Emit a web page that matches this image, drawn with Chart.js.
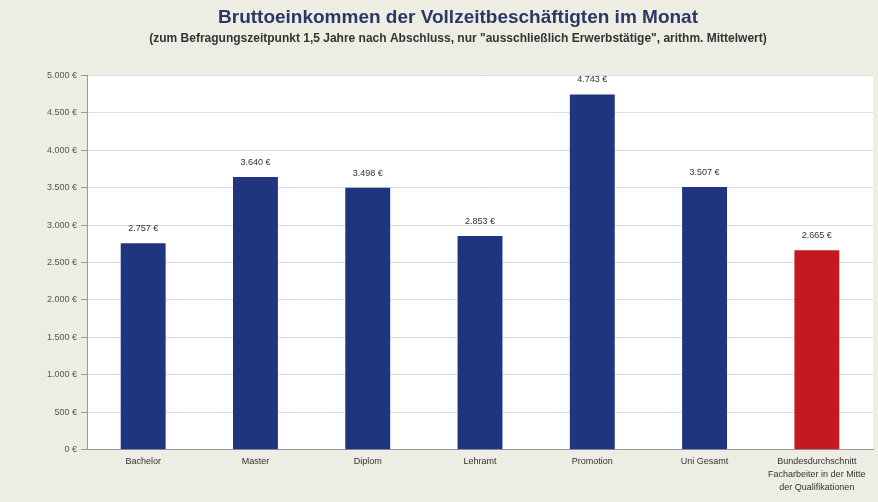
<!DOCTYPE html>
<html>
<head>
<meta charset="utf-8">
<script src="https://cdn.jsdelivr.net/npm/chart.js@4"></script>
<style>
  html, body { margin: 0; padding: 0; background: #eeede3; }
  canvas { display: block; }
</style>
</head>
<body>
<canvas id="chart" width="878" height="502"></canvas>
<script>
// Categories and values (monthly gross income, EUR)
const categories = [
    "Bachelor",
    "Master",
    "Diplom",
    "Lehramt",
    "Promotion",
    "Uni Gesamt",
    ["Bundesdurchschnitt", "Facharbeiter in der Mitte", "der Qualifikationen"]
];
const incomes = [2757, 3640, 3498, 2853, 4743, 3507, 2665];
const barColors = ["#1f3580", "#1f3580", "#1f3580", "#1f3580", "#1f3580", "#1f3580", "#c4191f"];

const yMax = 5000;
const yStep = 500;

const FONT = "Arial, Helvetica, sans-serif";

function euro(v) {
    // German thousands separator
    const s = String(Math.round(v)).replace(/\B(?=(\d{3})+(?!\d))/g, ".");
    return s + " €";
}

// white plot area
const plotBg = {
    id: "plotBg",
    beforeDraw(chart) {
        const a = chart.chartArea;
        const ctx = chart.ctx;
        ctx.save();
        ctx.fillStyle = "#ffffff";
        ctx.fillRect(a.left, a.top, a.right - a.left, a.bottom - a.top);
        ctx.restore();
    }
};

// value labels above the bars
const valueLabels = {
    id: "valueLabels",
    afterDatasetsDraw(chart) {
        const ctx = chart.ctx;
        const meta = chart.getDatasetMeta(0);
        ctx.save();
        ctx.font = "9px " + FONT;
        ctx.fillStyle = "#333333";
        ctx.textAlign = "center";
        ctx.textBaseline = "bottom";
        meta.data.forEach((bar, i) => {
            ctx.fillText(euro(incomes[i]), bar.x, bar.y - 10);
        });
        ctx.restore();
    }
};

new Chart(document.getElementById("chart"), {
    type: "bar",
    data: {
        labels: categories,
        datasets: [{
            data: incomes,
            backgroundColor: barColors,
            borderWidth: 0,
            barPercentage: 0.4,
            categoryPercentage: 1.0
        }]
    },
    options: {
        responsive: false,
        animation: false,
        devicePixelRatio: 1,
        layout: { padding: { left: 43, right: 5, top: 2, bottom: 3 } },
        plugins: {
            legend: { display: false },
            tooltip: { enabled: false },
            title: {
                display: true,
                text: "Bruttoeinkommen der Vollzeitbeschäftigten im Monat",
                color: "#2b3766",
                font: { family: FONT, size: 19, weight: "bold" },
                padding: { top: 4, bottom: 3 }
            },
            subtitle: {
                display: true,
                text: "(zum Befragungszeitpunkt 1,5 Jahre nach Abschluss, nur \"ausschließlich Erwerbstätige\", arithm. Mittelwert)",
                color: "#333333",
                font: { family: FONT, size: 12, weight: "bold" },
                padding: { top: 0, bottom: 29 }
            }
        },
        scales: {
            x: {
                grid: { display: false, drawTicks: false },
                border: { color: "#999999" },
                ticks: {
                    color: "#333333",
                    font: { family: FONT, size: 9, lineHeight: 1.45 },
                    padding: 5,
                    maxRotation: 0,
                    autoSkip: false
                }
            },
            y: {
                min: 0,
                max: yMax,
                border: { color: "#999999" },
                grid: { color: "#dcdcdc", tickLength: 6, tickColor: "#999999" },
                ticks: {
                    stepSize: yStep,
                    color: "#555555",
                    font: { family: FONT, size: 9 },
                    padding: 4,
                    callback: (v) => euro(v)
                }
            }
        }
    },
    plugins: [plotBg, valueLabels]
});
</script>
</body>
</html>
